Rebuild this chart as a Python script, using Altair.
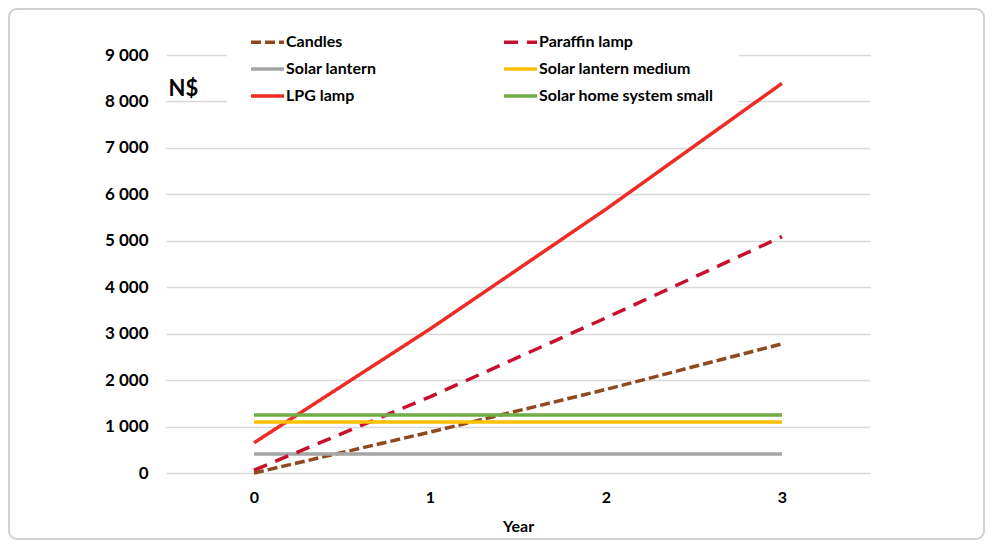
import altair as alt
import pandas as pd

years = [0, 1, 2, 3]
series = ["Candles", "Solar lantern", "LPG lamp",
          "Paraffin lamp", "Solar lantern medium", "Solar home system small"]
candles = [0, 880, 1800, 2780]
paraffin_lamp = [60, 1640, 3340, 5090]
solar_lantern = [410, 410, 410, 410]
solar_lantern_medium = [1100, 1100, 1100, 1100]
lpg_lamp = [650, 3100, 5680, 8390]
solar_home_system_small = [1250, 1250, 1250, 1250]
y_ticks = [0, 1000, 2000, 3000, 4000, 5000, 6000, 7000, 8000, 9000]
x_ticks = [0, 1, 2, 3]

colors = ["#8E4A1E", "#A5A5A5", "#EE2B24", "#C8102E", "#FFC000", "#70AD47"]
dashes = [[10, 4], [1, 0], [1, 0], [14, 9], [1, 0], [1, 0]]

values = [candles, solar_lantern, lpg_lamp, paraffin_lamp,
          solar_lantern_medium, solar_home_system_small]
rows = []
for name, vals in zip(series, values):
    for yr, v in zip(years, vals):
        rows.append({"Series": name, "Year": yr, "Value": v})
df = pd.DataFrame(rows)

FONT = "Lato"
W, H = 704, 418
PL, PT, PR, PB = 158, 47, 115, 67

legend_props = dict(
    title=None, orient="none", legendX=83, legendY=-31.5, columns=2,
    symbolType="stroke", symbolSize=1089, symbolStrokeWidth=3.5,
    labelFont=FONT, labelFontSize=16, labelFontWeight="bold", labelColor="black",
    padding=0, columnPadding=120, rowPadding=-5,
    labelOffset=0, labelLimit=400,
)

border = alt.Chart(alt.Data(values=[{}])).mark_rect(
    filled=False, stroke="#D0D0D0", strokeWidth=2, cornerRadius=8
).encode(
    x=alt.value(-PL + 1), x2=alt.value(W + PR - 1),
    y=alt.value(-PT + 1), y2=alt.value(H + PB - 1),
)

legend_bg = alt.Chart(alt.Data(values=[{}])).mark_rect(fill="white").encode(
    x=alt.value(61), x2=alt.value(573),
    y=alt.value(-20), y2=alt.value(52),
)

lines = alt.Chart(df).mark_line(strokeWidth=3.5, strokeCap="butt").encode(
    x=alt.X("Year:Q",
            scale=alt.Scale(domain=[-0.5, 3.5], nice=False, zero=False),
            axis=alt.Axis(values=x_ticks, grid=False, domain=False, ticks=False, tickSize=0,
                          labelFont=FONT, labelFontSize=16, labelFontWeight="bold",
                          labelColor="black", labelPadding=16,
                          title="Year", titleFont=FONT, titleFontSize=16,
                          titleFontWeight="bold", titleColor="black",
                          titleY=53, titleBaseline="middle")),
    y=alt.Y("Value:Q",
            scale=alt.Scale(domain=[0, 9000], nice=False),
            axis=alt.Axis(values=y_ticks, grid=True, gridColor="#D9D9D9", gridWidth=1.5,
                          domain=False, ticks=False, tickSize=0,
                          labelExpr="replace(format(datum.value, ','), ',', ' ')",
                          labelFont=FONT, labelFontSize=17, labelFontWeight="bold",
                          labelColor="black", labelPadding=18,
                          title="N$", titleAngle=0, titleX=2, titleY=33,
                          titleAlign="left", titleBaseline="middle",
                          titleFont=FONT, titleFontSize=22, titleFontWeight="bold",
                          titleColor="black")),
    color=alt.Color("Series:N", scale=alt.Scale(domain=series, range=colors),
                    legend=alt.Legend(**legend_props)),
    strokeDash=alt.StrokeDash("Series:N", scale=alt.Scale(domain=series, range=dashes),
                              legend=alt.Legend(**legend_props)),
    order=alt.Order("Year:Q"),
)

chart = alt.layer(border, legend_bg, lines).properties(
    width=W, height=H,
    autosize=alt.AutoSizeParams(type="none"),
    padding={"left": PL, "top": PT, "right": PR, "bottom": PB},
    background="white",
).configure_view(stroke=None)

chart.save("out.html", embed_options={"renderer": "svg", "actions": False})
